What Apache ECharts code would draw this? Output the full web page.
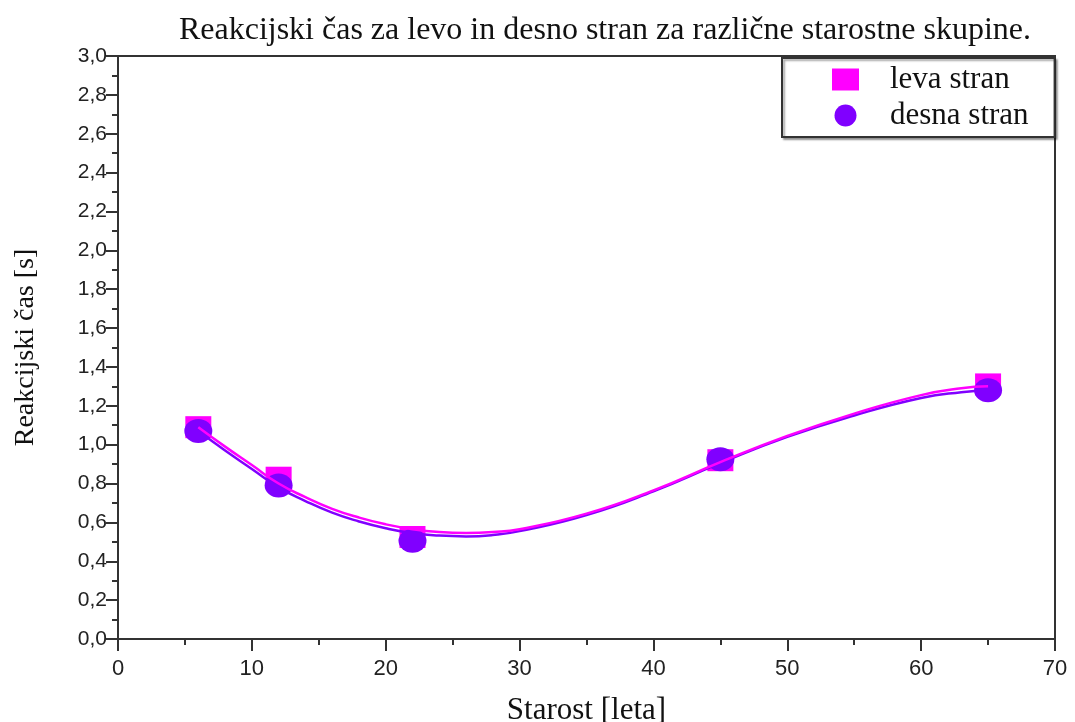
<!DOCTYPE html>
<html>
<head>
<meta charset="utf-8">
<script src="https://cdn.jsdelivr.net/npm/echarts@6/dist/echarts.min.js"></script>
<style>html,body{margin:0;padding:0;background:#fff}#c{width:1075px;height:722px}</style>
</head>
<body>
<div id="c"></div>
<script>
var ages = [6, 12, 22, 45, 65];
var levaValues = [1.09, 0.83, 0.525, 0.92, 1.31];
var desnaValues = [1.07, 0.79, 0.505, 0.925, 1.28];
var fitAges = [6, 8, 10, 12, 14, 16, 18, 20, 22, 24, 26, 28, 30, 35, 40, 45, 50, 55, 60, 63, 65];
var levaFit = [1.09, 0.99, 0.895, 0.80, 0.73, 0.67, 0.625, 0.59, 0.565, 0.55, 0.545, 0.55, 0.565, 0.645, 0.765, 0.91, 1.045, 1.16, 1.255, 1.29, 1.30];
var desnaFit = [1.07, 0.97, 0.875, 0.78, 0.71, 0.65, 0.605, 0.57, 0.545, 0.532, 0.528, 0.535, 0.555, 0.638, 0.76, 0.905, 1.04, 1.15, 1.24, 1.27, 1.28];
var yTicks = [0, 3, 0.2];
var xTicks = [0, 70, 10];

function pairs(xs, ys) { return xs.map(function (x, i) { return [x, ys[i]]; }); }

var chart = echarts.init(document.getElementById('c'));
var serif = 'Liberation Serif';
chart.setOption({
  animation: false,
  backgroundColor: '#fff',
  title: {
    text: 'Reakcijski čas za levo in desno stran za različne starostne skupine.',
    left: 600, top: 10, textAlign: 'center',
    textStyle: { fontFamily: serif, fontSize: 32, fontWeight: 'normal', color: '#111' }
  },
  legend: {
    data: ['leva stran', 'desna stran'],
    orient: 'vertical',
    left: 782, top: 58,
    padding: [6, 26, 6, 50],
    itemGap: 5,
    itemWidth: 27, itemHeight: 22,
    backgroundColor: '#fff',
    borderColor: '#333', borderWidth: 2,
    shadowColor: 'rgba(0,0,0,0.35)', shadowOffsetX: 2, shadowOffsetY: 2, shadowBlur: 2,
    textStyle: { fontFamily: serif, fontSize: 31, color: '#111', lineHeight: 30, padding: [0, 0, 0, 26] }
  },
  grid: {
    left: 118, right: 20, top: 56, bottom: 83,
    containLabel: false, outerBoundsMode: 'none',
    show: true, borderColor: '#333', borderWidth: 2, backgroundColor: '#fff'
  },
  xAxis: {
    type: 'value', min: xTicks[0], max: xTicks[1], interval: xTicks[2],
    name: 'Starost [leta]', nameLocation: 'middle', nameGap: 56,
    nameTextStyle: { fontFamily: serif, fontSize: 31, color: '#111' },
    axisLine: { show: true, lineStyle: { color: '#333', width: 2 } },
    axisTick: { show: true, inside: false, length: 12, lineStyle: { color: '#333', width: 2 } },
    minorTick: { show: true, splitNumber: 2, length: 6, lineStyle: { color: '#333', width: 2 } },
    splitLine: { show: false },
    axisLabel: { fontFamily: 'Liberation Sans', fontSize: 22, color: '#222', margin: 19 }
  },
  yAxis: {
    type: 'value', min: yTicks[0], max: yTicks[1], interval: yTicks[2],
    name: 'Reakcijski čas [s]', nameLocation: 'middle', nameGap: 78, nameRotate: 90,
    nameTextStyle: { fontFamily: serif, fontSize: 28, color: '#111' },
    axisLine: { show: true, lineStyle: { color: '#333', width: 2 } },
    axisTick: { show: true, inside: false, length: 12, lineStyle: { color: '#333', width: 2 } },
    minorTick: { show: true, splitNumber: 2, length: 6, lineStyle: { color: '#333', width: 2 } },
    splitLine: { show: false },
    axisLabel: {
      fontFamily: 'Liberation Sans', fontSize: 21, color: '#222', margin: 11,
      formatter: function (v) { return v.toFixed(1).replace('.', ','); }
    }
  },
  series: [
    {
      name: 'leva stran', type: 'scatter', z: 2,
      symbol: 'rect', symbolSize: [26, 22],
      itemStyle: { color: '#ff00ff', opacity: 1 },
      data: pairs(ages, levaValues)
    },
    {
      name: 'desna stran', type: 'scatter', z: 3,
      symbol: 'circle', symbolSize: [28, 24],
      itemStyle: { color: '#8000ff', opacity: 1 },
      data: pairs(ages, desnaValues)
    },
    {
      name: 'desna fit', type: 'line', z: 4, smooth: true, showSymbol: false, symbol: 'none',
      lineStyle: { color: '#8000ff', width: 2.5 },
      data: pairs(fitAges, desnaFit)
    },
    {
      name: 'leva fit', type: 'line', z: 5, smooth: true, showSymbol: false, symbol: 'none',
      lineStyle: { color: '#ff00ff', width: 2.5 },
      data: pairs(fitAges, levaFit)
    }
  ]
});
</script>
</body>
</html>
